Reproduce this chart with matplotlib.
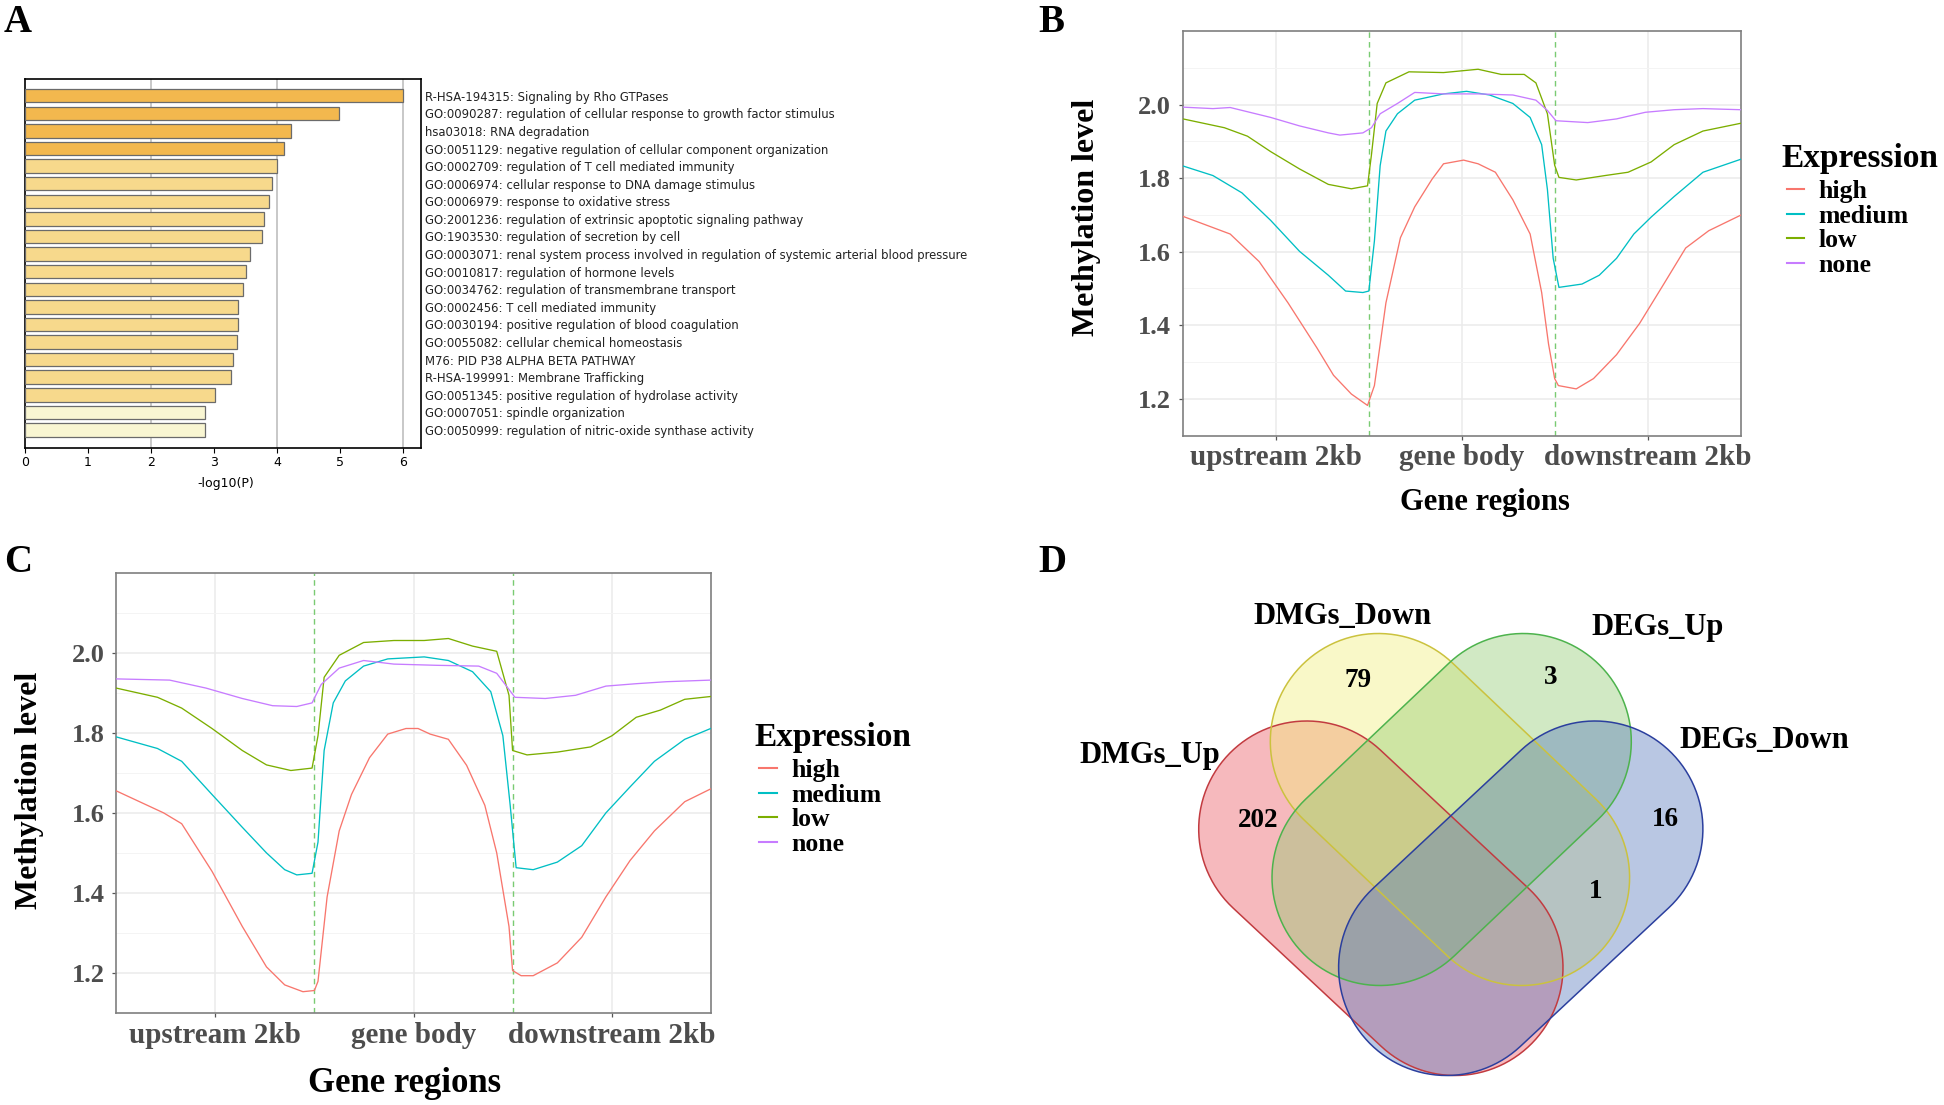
import numpy as np
import matplotlib
matplotlib.use("Agg")
import matplotlib.pyplot as plt
from matplotlib.path import Path
from matplotlib.patches import PathPatch

# ---------------- data ----------------
# Panel A: enrichment terms and -log10(P)
go_terms = [
    "R-HSA-194315: Signaling by Rho GTPases",
    "GO:0090287: regulation of cellular response to growth factor stimulus",
    "hsa03018: RNA degradation",
    "GO:0051129: negative regulation of cellular component organization",
    "GO:0002709: regulation of T cell mediated immunity",
    "GO:0006974: cellular response to DNA damage stimulus",
    "GO:0006979: response to oxidative stress",
    "GO:2001236: regulation of extrinsic apoptotic signaling pathway",
    "GO:1903530: regulation of secretion by cell",
    "GO:0003071: renal system process involved in regulation of systemic arterial blood pressure",
    "GO:0010817: regulation of hormone levels",
    "GO:0034762: regulation of transmembrane transport",
    "GO:0002456: T cell mediated immunity",
    "GO:0030194: positive regulation of blood coagulation",
    "GO:0055082: cellular chemical homeostasis",
    "M76: PID P38 ALPHA BETA PATHWAY",
    "R-HSA-199991: Membrane Trafficking",
    "GO:0051345: positive regulation of hydrolase activity",
    "GO:0007051: spindle organization",
    "GO:0050999: regulation of nitric-oxide synthase activity",
]
go_logp = [6.0, 4.99, 4.23, 4.12, 4.0, 3.92, 3.87, 3.80, 3.77, 3.58,
           3.51, 3.47, 3.38, 3.38, 3.37, 3.30, 3.28, 3.02, 2.86, 2.86]

# Panels B / C: methylation profiles (position along gene regions, level)
expr_levels = ["high", "medium", "low", "none"]
region_labels = ["upstream 2kb", "gene body", "downstream 2kb"]

b_high_x = [0.0, 0.254, 0.41, 0.565, 0.72, 0.81, 0.906, 0.993, 1.03, 1.092, 1.17, 1.247, 1.34, 1.402, 1.51, 1.588,
            1.681, 1.775, 1.868, 1.93, 1.967, 2.0, 2.02, 2.116, 2.209, 2.333, 2.457, 2.581, 2.705, 2.829, 3.0]
b_high_y = [1.696, 1.648, 1.573, 1.461, 1.339, 1.264, 1.213, 1.182, 1.236, 1.461, 1.638, 1.722, 1.797, 1.839, 1.849,
            1.839, 1.816, 1.741, 1.648, 1.489, 1.349, 1.255, 1.236, 1.227, 1.255, 1.32, 1.405, 1.507, 1.61, 1.657, 1.699]
b_med_x = [0.0, 0.161, 0.317, 0.472, 0.627, 0.782, 0.875, 0.968, 1.0, 1.03, 1.061, 1.092, 1.154, 1.247, 1.402, 1.526,
           1.65, 1.775, 1.868, 1.93, 1.961, 1.992, 2.023, 2.147, 2.24, 2.333, 2.426, 2.519, 2.643, 2.798, 3.0]
b_med_y = [1.833, 1.807, 1.76, 1.685, 1.601, 1.536, 1.493, 1.489, 1.493, 1.629, 1.834, 1.928, 1.975, 2.012, 2.029,
           2.036, 2.026, 2.003, 1.965, 1.891, 1.769, 1.582, 1.503, 1.512, 1.536, 1.582, 1.648, 1.694, 1.75, 1.816, 1.851]
b_low_x = [0.0, 0.223, 0.347, 0.472, 0.627, 0.782, 0.906, 0.993, 1.014, 1.045, 1.092, 1.216, 1.402, 1.588, 1.712,
           1.836, 1.899, 1.961, 2.0, 2.023, 2.116, 2.271, 2.395, 2.519, 2.643, 2.798, 3.0]
b_low_y = [1.961, 1.937, 1.914, 1.872, 1.825, 1.783, 1.771, 1.779, 1.863, 2.003, 2.059, 2.089, 2.087, 2.096, 2.082,
           2.082, 2.059, 1.975, 1.835, 1.802, 1.795, 1.807, 1.816, 1.844, 1.891, 1.928, 1.949]
b_none_x = [0.0, 0.161, 0.254, 0.472, 0.627, 0.782, 0.844, 0.968, 1.014, 1.061, 1.154, 1.247, 1.402, 1.588, 1.775,
            1.899, 1.961, 2.007, 2.178, 2.333, 2.488, 2.643, 2.798, 3.0]
b_none_y = [1.993, 1.989, 1.992, 1.965, 1.942, 1.923, 1.917, 1.923, 1.937, 1.975, 2.003, 2.033, 2.029, 2.029, 2.026,
            2.012, 1.984, 1.956, 1.951, 1.961, 1.979, 1.986, 1.989, 1.986]

c_high_x = [0.0, 0.239, 0.33, 0.483, 0.636, 0.758, 0.85, 0.942, 1.0, 1.018, 1.064, 1.125, 1.187, 1.278, 1.37, 1.462,
            1.523, 1.584, 1.676, 1.768, 1.86, 1.92, 1.982, 2.0, 2.043, 2.104, 2.226, 2.349, 2.471, 2.593, 2.716, 2.869, 3.0]
c_high_y = [1.656, 1.601, 1.574, 1.455, 1.317, 1.216, 1.171, 1.154, 1.157, 1.18, 1.391, 1.556, 1.647, 1.739, 1.798,
            1.812, 1.812, 1.798, 1.785, 1.72, 1.62, 1.501, 1.317, 1.207, 1.194, 1.194, 1.226, 1.29, 1.391, 1.482,
            1.556, 1.629, 1.661]
c_med_x = [0.0, 0.208, 0.33, 0.483, 0.636, 0.758, 0.85, 0.911, 0.988, 1.018, 1.049, 1.095, 1.156, 1.248, 1.37, 1.554,
           1.676, 1.798, 1.89, 1.951, 1.988, 2.018, 2.104, 2.226, 2.349, 2.471, 2.593, 2.716, 2.869, 3.0]
c_med_y = [1.791, 1.762, 1.73, 1.647, 1.565, 1.501, 1.459, 1.446, 1.45, 1.528, 1.757, 1.876, 1.931, 1.968, 1.986,
           1.991, 1.982, 1.954, 1.904, 1.794, 1.62, 1.464, 1.459, 1.478, 1.519, 1.601, 1.666, 1.73, 1.785, 1.812]
c_low_x = [0.0, 0.208, 0.33, 0.483, 0.636, 0.758, 0.881, 0.988, 1.018, 1.049, 1.125, 1.248, 1.401, 1.554, 1.676,
           1.798, 1.92, 1.982, 2.0, 2.073, 2.226, 2.394, 2.502, 2.624, 2.746, 2.869, 3.0]
c_low_y = [1.913, 1.89, 1.863, 1.812, 1.757, 1.721, 1.707, 1.713, 1.794, 1.94, 1.995, 2.027, 2.032, 2.032, 2.037,
           2.018, 2.005, 1.895, 1.757, 1.746, 1.753, 1.766, 1.794, 1.84, 1.858, 1.885, 1.892]
c_none_x = [0.0, 0.269, 0.453, 0.636, 0.789, 0.911, 0.988, 1.034, 1.125, 1.248, 1.401, 1.615, 1.829, 1.92, 2.012,
            2.165, 2.318, 2.471, 2.624, 2.777, 3.0]
c_none_y = [1.936, 1.933, 1.913, 1.887, 1.869, 1.867, 1.876, 1.922, 1.963, 1.982, 1.973, 1.97, 1.968, 1.95, 1.89,
            1.887, 1.895, 1.918, 1.924, 1.929, 1.933]

# Panel D: Venn sets and non-empty region counts
venn_sets = ["DMGs_Up", "DMGs_Down", "DEGs_Up", "DEGs_Down"]
venn_regions = ["DMGs_Up", "DMGs_Down", "DEGs_Up", "DEGs_Down", "DMGs_Down&DEGs_Down"]
venn_counts = [202, 79, 3, 16, 1]

# ---------------- figure ----------------
W, H = 1944, 1105
fig = plt.figure(figsize=(W / 100, H / 100), dpi=100)
fig.patch.set_facecolor("white")

SERIF = ["Liberation Serif", "DejaVu Serif"]
SANS = ["DejaVu Sans"]


def px_axes(l, t, r, b):
    return fig.add_axes([l / W, 1 - b / H, (r - l) / W, (b - t) / H])


def ftext(x, y, s, **kw):
    return fig.text(x / W, 1 - y / H, s, **kw)


# panel letters
for letter, (lx, ly) in zip("ABCD", [(18, 22), (1051, 22), (18, 562), (1052, 562)]):
    ftext(lx, ly, letter, family=SERIF, weight="bold", fontsize=28, ha="center", va="center")

# ---------------- Panel A ----------------
axA = px_axes(25, 79, 421, 448)
n = len(go_logp)
ypos = np.arange(n)
bar_cols = ["#F3B84E" if i < 4 else ("#F9F6D2" if i >= n - 2 else "#F7D98C") for i in range(n)]
axA.barh(ypos, go_logp, height=0.77, color=bar_cols, edgecolor="#6b6b6b", linewidth=0.9, zorder=3)
axA.set_xlim(0, 6.29)
axA.set_ylim(n - 1 + 1.02, -0.95)
axA.set_xticks(range(7))
axA.set_xticklabels([str(i) for i in range(7)], family=SANS, fontsize=9)
for gx in [2, 4, 6]:
    axA.axvline(gx, color="#c4c4c4", lw=1.3, zorder=1)
axA.yaxis.tick_right()
axA.set_yticks(ypos)
axA.set_yticklabels(go_terms, family=SANS, fontsize=8.4, color="#222222")
axA.tick_params(axis="y", length=0, pad=3)
axA.tick_params(axis="x", length=3.5, width=0.8, pad=2)
for sp in axA.spines.values():
    sp.set_color("black")
    sp.set_linewidth(1.2)
ftext(226, 483, "-log10(P)", family=SANS, fontsize=9, ha="center", va="center")

# ---------------- Panels B / C ----------------
line_cols = ["#F8766D", "#00BFC4", "#7CAE00", "#C77CFF"]


def methyl_panel(box, series, ylab_xy, xlab_xy, xlab_size, leg_anchor):
    ax = px_axes(*box)
    for (xs, ys), lab, col in zip(series, expr_levels, line_cols):
        ax.plot(xs, ys, color=col, lw=0.95, label=lab, zorder=3)
    ax.set_xlim(0, 3)
    ax.set_ylim(1.1, 2.2)
    ax.set_yticks([1.2, 1.4, 1.6, 1.8, 2.0])
    ax.set_yticklabels(["1.2", "1.4", "1.6", "1.8", "2.0"])
    ax.set_yticks([1.1, 1.3, 1.5, 1.7, 1.9, 2.1], minor=True)
    ax.set_xticks([0.5, 1.5, 2.5])
    ax.set_xticklabels(region_labels)
    ax.grid(True, which="major", color="#EBEBEB", lw=1.1, zorder=0)
    ax.grid(True, which="minor", axis="y", color="#F4F4F4", lw=0.7, zorder=0)
    for vx in [1, 2]:
        ax.axvline(vx, color="#7ACB72", lw=1.0, ls=(0, (4, 3)), zorder=2)
    for lab in ax.get_xticklabels():
        lab.set_family(SERIF)
        lab.set_weight("bold")
        lab.set_color("#4D4D4D")
        lab.set_fontsize(21)
    for lab in ax.get_yticklabels():
        lab.set_family(SERIF)
        lab.set_weight("bold")
        lab.set_color("#4D4D4D")
        lab.set_fontsize(19)
    ax.tick_params(which="major", length=3, width=0.9, color="#555555")
    ax.tick_params(axis="x", pad=3)
    ax.tick_params(axis="y", pad=5.5)
    ax.tick_params(which="minor", length=0)
    for sp in ax.spines.values():
        sp.set_color("#7f7f7f")
        sp.set_linewidth(1.2)
    ftext(ylab_xy[0], ylab_xy[1], "Methylation level", family=SERIF, weight="bold", fontsize=23,
          rotation=90, ha="center", va="center")
    ftext(xlab_xy[0], xlab_xy[1], "Gene regions", family=SERIF, weight="bold", fontsize=xlab_size,
          ha="center", va="center")
    leg = ax.legend(title="Expression", loc="upper left",
                    bbox_to_anchor=(leg_anchor[0] / W, 1 - leg_anchor[1] / H),
                    bbox_transform=fig.transFigure, frameon=False, borderpad=0, borderaxespad=0,
                    handlelength=0.68, handletextpad=0.57, labelspacing=0.06,
                    prop={"family": SERIF, "weight": "bold", "size": 18.5},
                    title_fontproperties={"family": SERIF, "weight": "bold", "size": 24},
                    alignment="left")
    for h in leg.get_lines():
        h.set_linewidth(1.5)
    try:
        leg._legend_handle_box.pad = 3.5
    except Exception:
        pass
    return ax


methyl_panel((1183, 31, 1740.5, 435.6),
             [(b_high_x, b_high_y), (b_med_x, b_med_y), (b_low_x, b_low_y), (b_none_x, b_none_y)],
             (1086, 217), (1485, 503), 22, (1781.7, 143))
methyl_panel((116.3, 573.3, 710.7, 1013.3),
             [(c_high_x, c_high_y), (c_med_x, c_med_y), (c_low_x, c_low_y), (c_none_x, c_none_y)],
             (29, 790), (405, 1083), 25, (754.5, 722))

# ---------------- Panel D: Venn ----------------
axD = px_axes(1030, 540, W, H)
axD.set_xlim(1030, W)
axD.set_ylim(H, 540)
axD.axis("off")


def capsule(c1, c2, r, nseg=60):
    c1 = np.asarray(c1, float)
    c2 = np.asarray(c2, float)
    u = (c2 - c1) / np.hypot(*(c2 - c1))
    a0 = np.arctan2(u[1], u[0])
    t2 = np.linspace(a0 - np.pi / 2, a0 + np.pi / 2, nseg)
    t1 = np.linspace(a0 + np.pi / 2, a0 + 3 * np.pi / 2, nseg)
    arc2 = c2 + r * np.column_stack([np.cos(t2), np.sin(t2)])
    arc1 = c1 + r * np.column_stack([np.cos(t1), np.sin(t1)])
    pts = np.vstack([arc2, arc1, arc2[:1]])
    codes = [Path.MOVETO] + [Path.LINETO] * (len(pts) - 2) + [Path.CLOSEPOLY]
    return Path(pts, codes)


R = 108
shapes = {
    "DMGs_Up": ((1306.7, 829), (1455.0, 967.5)),
    "DMGs_Down": ((1378.3, 741.5), (1521.6, 877.5)),
    "DEGs_Up": ((1523.3, 741.5), (1380.0, 877.5)),
    "DEGs_Down": ((1594.9, 829), (1446.6, 967.5)),
}
fills = {"DMGs_Up": "#E9525C", "DMGs_Down": "#F2EE76", "DEGs_Up": "#8ECA6C", "DEGs_Down": "#5275BB"}
edges = {"DMGs_Up": "#C23B40", "DMGs_Down": "#CBC23E", "DEGs_Up": "#4DB34D", "DEGs_Down": "#2B3F9E"}
for s in venn_sets:
    p = capsule(*shapes[s], R)
    axD.add_patch(PathPatch(p, facecolor=fills[s], edgecolor="none", alpha=0.4, zorder=2))
for s in venn_sets:
    p = capsule(*shapes[s], R)
    axD.add_patch(PathPatch(p, facecolor="none", edgecolor=edges[s], lw=1.1, zorder=3))

set_label_pos = {"DMGs_Up": (1149.5, 763.5), "DMGs_Down": (1343, 624.5),
                 "DEGs_Up": (1658, 635.5), "DEGs_Down": (1764.5, 748)}
for s in venn_sets:
    x, y = set_label_pos[s]
    axD.text(x, y, s, family=SERIF, weight="bold", fontsize=22, ha="center", va="baseline", zorder=5)

region_pos = {"DMGs_Up": (1258, 826.7), "DMGs_Down": (1358, 686.7), "DEGs_Up": (1550.6, 684),
              "DEGs_Down": (1665.4, 826.5), "DMGs_Down&DEGs_Down": (1595.4, 898.5)}
for reg, cnt in zip(venn_regions, venn_counts):
    x, y = region_pos[reg]
    axD.text(x, y, str(cnt), family=SERIF, weight="bold", fontsize=19.5, ha="center", va="baseline", zorder=5)

fig.savefig("out.png", dpi=100, facecolor="white")
